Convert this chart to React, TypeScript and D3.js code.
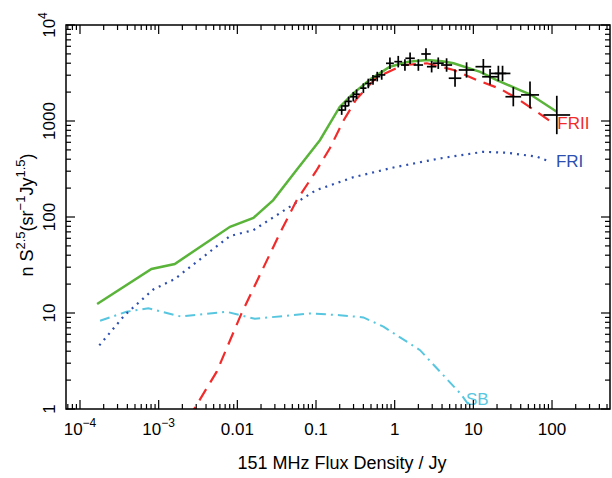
import React from "react";
import * as d3 from "d3";

// ---------- data ----------
// measured source counts (151 MHz), crosses
const dataFlux = [0.212, 0.236, 0.26, 0.298, 0.328, 0.4, 0.462, 0.53, 0.6, 0.684, 0.87, 1.11, 1.35, 1.57, 2.0, 2.5, 2.95, 3.58, 4.57, 5.85, 8.2, 13.4, 16.3, 20.8, 23.5, 32.2, 52.5, 115];
const dataCounts = [1300, 1435, 1600, 1790, 1900, 2200, 2460, 2680, 2900, 3020, 3990, 4150, 3830, 4500, 3830, 4990, 3680, 4000, 3830, 2790, 3400, 3680, 2890, 3130, 3130, 1790, 1870, 1155];
const dataFluxErrDex = [0.04, 0.04, 0.04, 0.04, 0.04, 0.04, 0.04, 0.04, 0.04, 0.045, 0.05, 0.05, 0.05, 0.06, 0.06, 0.06, 0.06, 0.07, 0.07, 0.08, 0.1, 0.1, 0.1, 0.1, 0.1, 0.1, 0.115, 0.17];
const dataCountErrDex = [0.05, 0.05, 0.05, 0.05, 0.05, 0.05, 0.05, 0.05, 0.05, 0.05, 0.06, 0.06, 0.06, 0.06, 0.06, 0.06, 0.06, 0.06, 0.07, 0.09, 0.08, 0.08, 0.08, 0.08, 0.08, 0.1, 0.14, 0.2];

// model: total
const totalFlux = [1.65e-4, 8.1e-4, 1.6e-3, 8.07e-3, 0.016, 0.0286, 0.055, 0.112, 0.2, 0.3, 0.5, 0.87, 1.5, 2.57, 4.0, 5.6, 12.2, 19.8, 39, 52.5, 115];
const totalCounts = [12.4, 28.7, 32.4, 79, 98, 150, 300, 630, 1400, 1950, 2750, 3680, 4150, 4320, 4200, 3990, 3250, 2670, 2100, 1900, 1250];

// model: FRII
const friiFlux = [2.4e-3, 5.47e-3, 0.0113, 0.0348, 0.057, 0.1, 0.15, 0.222, 0.328, 0.59, 1.29, 2.57, 5.6, 11, 22, 35.5, 63.8, 104];
const friiCounts = [0.8, 2.45, 9.9, 68, 150, 300, 520, 1000, 1700, 2850, 3830, 3990, 3400, 2680, 2160, 1730, 1250, 945];

// model: FRI
const friFlux = [1.76e-4, 3.7e-4, 8.55e-4, 1.6e-3, 8.07e-3, 0.016, 0.063, 0.1, 0.3, 1, 3.77, 13.4, 26.5, 63.8, 94];
const friCounts = [4.6, 9.5, 17.6, 22.6, 63.4, 73, 150, 190, 260, 330, 408, 478, 467, 425, 377];

// model: starbursts
const sbFlux = [1.8e-4, 3.9e-4, 7.4e-4, 1.9e-3, 7.3e-3, 0.0167, 0.084, 0.2, 0.4, 0.72, 2.1, 7.1, 9.06];
const sbCounts = [8.3, 10.3, 11.2, 9.2, 10.3, 8.7, 9.9, 9.5, 9.0, 7.2, 4.1, 1.4, 1.05];

const xMajor = [1e-4, 1e-3, 0.01, 0.1, 1, 10, 100];
const xMajorLabels = [["10", "\u22124"], ["10", "\u22123"], ["0.01", ""], ["0.1", ""], ["1", ""], ["10", ""], ["100", ""]];
const yMajor = [1, 10, 100, 1000, 10000];
const yMajorLabels = [["1", ""], ["10", ""], ["100", ""], ["1000", ""], ["10", "4"]];

// ---------- layout ----------
const W = 612, H = 478;
const L = 66, R = 610, T = 25, B = 409;

const x = d3.scaleLog().domain([Math.pow(10, -4.178), Math.pow(10, 2.737)]).range([L, R]);
const y = d3.scaleLog().domain([1, 1e4]).range([B, T]);

const GREEN = "#5ab43a";
const RED = "#f22a2a";
const BLUE = "#2d4fb0";
const CYAN = "#58c6df";
const FONT = "'Liberation Sans', Arial, Helvetica, sans-serif";

function series(fx: number[], fy: number[]) {
  return fx.map((v, i) => [v, fy[i]] as [number, number]);
}
const line = d3.line<[number, number]>().x(d => x(d[0])).y(d => y(d[1]));

export default function App() {
  const xTicks = x.ticks();
  const yTicks = y.ticks();
  const isMajor = (v: number) => Math.abs(Math.log10(v) - Math.round(Math.log10(v))) < 1e-6;
  const MAJ = 9, MIN = 5;

  const lastFrii = friiFlux.length - 1;
  const lastFri = friFlux.length - 1;
  const lastSb = sbFlux.length - 1;

  return (
    <div style={{ position: "fixed", left: 0, top: 0 }}>
      <svg width={W} height={H} viewBox={`0 0 ${W} ${H}`} style={{ display: "block", background: "#fff" }}>
        <defs>
          <clipPath id="plot">
            <rect x={L} y={T} width={R - L} height={B - T} />
          </clipPath>
        </defs>

        {/* curves */}
        <g clipPath="url(#plot)" fill="none">
          <path d={line(series(sbFlux, sbCounts)) || ""} stroke={CYAN} strokeWidth={2} strokeDasharray="10,5,2,5" />
          <path d={line(series(friFlux, friCounts)) || ""} stroke={BLUE} strokeWidth={2.2} strokeDasharray="2,5" />
          <path d={line(series(friiFlux, friiCounts)) || ""} stroke={RED} strokeWidth={2.2} strokeDasharray="13,8" />
          <path d={line(series(totalFlux, totalCounts)) || ""} stroke={GREEN} strokeWidth={2.5} />
        </g>

        {/* data crosses */}
        <g stroke="#000" strokeWidth={1.7}>
          {dataFlux.map((s, i) => {
            const cx = x(s), cy = y(dataCounts[i]);
            const dx = Math.pow(10, dataFluxErrDex[i]);
            const dy = Math.pow(10, dataCountErrDex[i]);
            return (
              <g key={i}>
                <line x1={x(s / dx)} x2={x(s * dx)} y1={cy} y2={cy} />
                <line x1={cx} x2={cx} y1={y(dataCounts[i] / dy)} y2={y(dataCounts[i] * dy)} />
              </g>
            );
          })}
        </g>

        {/* labels on curves */}
        <text x={x(friiFlux[lastFrii]) + 4} y={y(friiCounts[lastFrii]) + 6} fill={RED} fontFamily={FONT} fontSize={17}>FRII</text>
        <text x={x(friFlux[lastFri]) + 6} y={y(friCounts[lastFri]) + 5} fill={BLUE} fontFamily={FONT} fontSize={17}>FRI</text>
        <text x={x(sbFlux[lastSb]) - 4} y={y(sbCounts[lastSb]) - 2} fill={CYAN} fontFamily={FONT} fontSize={17}>SB</text>

        {/* frame */}
        <rect x={L} y={T} width={R - L} height={B - T} fill="none" stroke="#000" strokeWidth={1.5} />

        {/* ticks */}
        <g stroke="#000" strokeWidth={1.2}>
          {xTicks.map((v, i) => {
            const px = x(v);
            const len = isMajor(v) ? MAJ : MIN;
            return (
              <g key={i}>
                <line x1={px} x2={px} y1={B} y2={B - len} />
                <line x1={px} x2={px} y1={T} y2={T + len} />
              </g>
            );
          })}
          {yTicks.map((v, i) => {
            const py = y(v);
            const len = isMajor(v) ? MAJ : MIN;
            return (
              <g key={i}>
                <line x1={L} x2={L + len} y1={py} y2={py} />
                <line x1={R} x2={R - len} y1={py} y2={py} />
              </g>
            );
          })}
        </g>

        {/* x tick labels */}
        <g fontFamily={FONT} fontSize={17} fill="#000">
          {xMajor.map((v, i) => (
            <text key={i} x={x(v)} y={435} textAnchor="middle">
              {xMajorLabels[i][0]}
              {xMajorLabels[i][1] ? <tspan dy={-8} fontSize={12}>{xMajorLabels[i][1]}</tspan> : null}
            </text>
          ))}
        </g>

        {/* y tick labels (rotated) */}
        <g fontFamily={FONT} fontSize={17} fill="#000">
          {yMajor.map((v, i) => (
            <text key={i} transform={`translate(55,${y(v)}) rotate(-90)`} textAnchor="middle">
              {yMajorLabels[i][0]}
              {yMajorLabels[i][1] ? <tspan dy={-8} fontSize={12}>{yMajorLabels[i][1]}</tspan> : null}
            </text>
          ))}
        </g>

        {/* axis titles */}
        <text x={(L + R) / 2 + 4} y={469} textAnchor="middle" fontFamily={FONT} fontSize={18} fill="#000">151 MHz Flux Density / Jy</text>
        <text transform={`translate(33,${(T + B) / 2 - 2}) rotate(-90)`} textAnchor="middle" fontFamily={FONT} fontSize={18} fill="#000">
          n S<tspan dy={-8} fontSize={13}>2.5</tspan><tspan dy={8}>(sr</tspan><tspan dy={-8} fontSize={13}>{"\u22121"}</tspan><tspan dy={8}>Jy</tspan><tspan dy={-8} fontSize={13}>1.5</tspan><tspan dy={8}>)</tspan>
        </text>
      </svg>
    </div>
  );
}
